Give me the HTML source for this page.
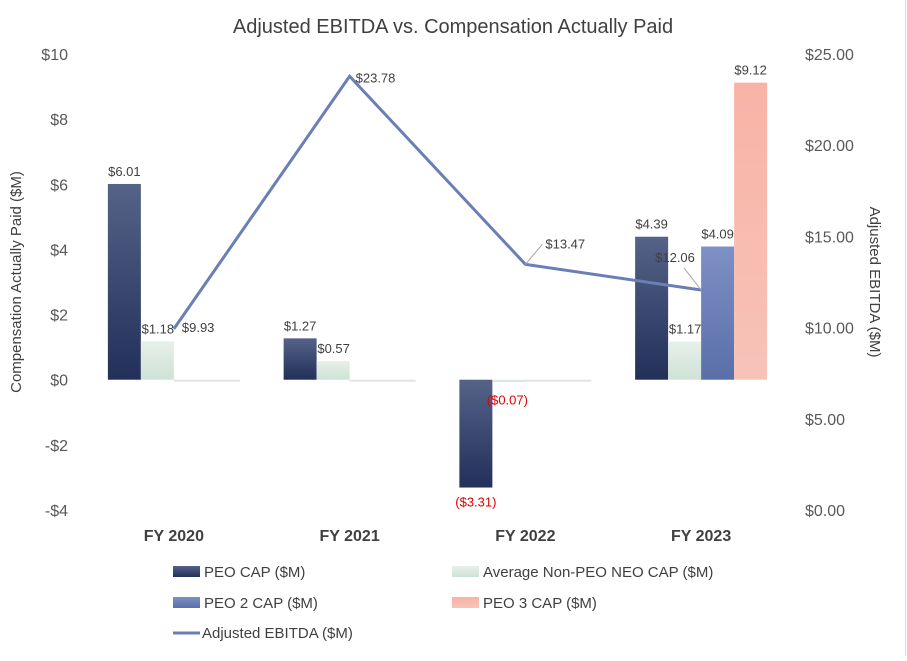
<!DOCTYPE html>
<html><head><meta charset="utf-8"><style>
body{margin:0;background:#fff;font-family:"Liberation Sans",sans-serif}
svg text{font-family:"Liberation Sans",sans-serif}
</style></head><body>
<svg id="c" width="907" height="656">
<defs>
<linearGradient id="g1" x1="0" y1="0" x2="0" y2="1"><stop offset="0" stop-color="#556388"/><stop offset="1" stop-color="#22305a"/></linearGradient>
<linearGradient id="g2" x1="0" y1="0" x2="0" y2="1"><stop offset="0" stop-color="#e6f0ea"/><stop offset="1" stop-color="#cfe2d6"/></linearGradient>
<linearGradient id="g3" x1="0" y1="0" x2="0" y2="1"><stop offset="0" stop-color="#7e90c4"/><stop offset="1" stop-color="#5a6ea8"/></linearGradient>
<linearGradient id="g4" x1="0" y1="0" x2="0" y2="1"><stop offset="0" stop-color="#f8b3a6"/><stop offset="1" stop-color="#f7c3b8"/></linearGradient>
</defs>
<line x1="905.5" y1="0" x2="905.5" y2="656" stroke="#d9d9d9"/>
<text x="453" y="33" text-anchor="middle" font-size="20" fill="#404040">Adjusted EBITDA vs. Compensation Actually Paid</text>
<g id="plot"></g>
<text transform="translate(21,282) rotate(-90)" text-anchor="middle" font-size="15" fill="#404040">Compensation Actually Paid ($M)</text>
<text transform="translate(870,282) rotate(90)" text-anchor="middle" font-size="15" fill="#404040">Adjusted EBITDA ($M)</text>
<g font-size="15" fill="#404040">
<rect x="173" y="566" width="27" height="11" fill="url(#g1)"/>
<text x="204" y="577">PEO CAP ($M)</text>
<rect x="452" y="566" width="27" height="11" fill="url(#g2)"/>
<text x="483" y="577">Average Non-PEO NEO CAP ($M)</text>
<rect x="173" y="597" width="27" height="11" fill="url(#g3)"/>
<text x="204" y="608">PEO 2 CAP ($M)</text>
<rect x="452" y="597" width="27" height="11" fill="url(#g4)"/>
<text x="483" y="608">PEO 3 CAP ($M)</text>
<line x1="173" y1="633" x2="200" y2="633" stroke="#6a7fb5" stroke-width="3"/>
<text x="202" y="638">Adjusted EBITDA ($M)</text>
</g>
</svg>
<script>
const categories=["FY 2020","FY 2021","FY 2022","FY 2023"];
const peo=[6.01,1.27,-3.31,4.39];
const nonPeo=[1.18,0.57,-0.07,1.17];
const peo2=[0,0,0,4.09];
const peo3=[0,0,0,9.12];
const ebitda=[9.93,23.78,13.47,12.06];
const leftTicks=[-4,-2,0,2,4,6,8,10];
const rightTicks=[0,5,10,15,20,25];
const NS="http://www.w3.org/2000/svg";
const g=document.getElementById('plot');
const x0=86,x1=789,bw=(x1-x0)/categories.length;
const yL=v=>510-(v+4)/14*456;
const yR=v=>510-v/25*456;
function el(t,a,txt){const e=document.createElementNS(NS,t);for(const k in a)e.setAttribute(k,a[k]);if(txt!==undefined)e.textContent=txt;g.appendChild(e);return e;}
const fmt=v=>v<0?"($"+Math.abs(v).toFixed(2)+")":"$"+v.toFixed(2);
leftTicks.forEach(v=>{const e=el('text',{x:68,y:yL(v)+6,'text-anchor':'end','font-size':16,fill:'#595959'},(v<0?"-$"+(-v):"$"+v));

});
rightTicks.forEach(v=>{const e=el('text',{x:805,y:yR(v)+6,'font-size':16,fill:'#595959'},"$"+v.toFixed(2));

});
const series=[[peo,'url(#g1)','peo'],[nonPeo,'url(#g2)','nonpeo'],[peo2,'url(#g3)','peo2'],[peo3,'url(#g4)','peo3']];
categories.forEach((c,i)=>{
 const cx=x0+bw*(i+0.5);
 const t=el('text',{x:cx,y:541,'text-anchor':'middle','font-size':16,'font-weight':'bold',fill:'#404040'},c);
 
 
 series.forEach((s,j)=>{
  const v=s[0][i];const bx=cx-66+j*33;
  const top=Math.min(yL(v),yL(0)),h=Math.abs(yL(v)-yL(0));
  if(v===0){const l=el('rect',{x:bx,y:yL(0),width:33,height:2,fill:'#e3e3e3'});
   
   return;}
  const r=el('rect',{x:bx,y:top,width:33,height:Math.max(h,1.5),fill:s[1]});
  
  
  let lx=bx+16.5,ly=v<0?yL(v)+19:yL(v)-8;
  if(s[2]==='nonpeo'){lx=bx+17;ly=yL(v)-20+12;}
  let col=v<0?'#e00000':'#404040';
  if(s[2]==='nonpeo'&&v<0){ly=yL(0)+25;lx=bx+15;}
  const lb=el('text',{x:lx,y:ly,'text-anchor':'middle','font-size':13,fill:col},fmt(v));
  
  
 });
});
const pts=ebitda.map((v,i)=>[x0+bw*(i+0.5),yR(v)]);
const pl=el('polyline',{points:pts.map(p=>p.join(',')).join(' '),fill:'none',stroke:'#6a7fb5','stroke-width':3});


pts.forEach((p,i)=>{
 let lx=p[0]+8,ly=p[1]+4;
 if(i===1){lx=p[0]+6;ly=p[1]+6;}
 if(i===2){lx=p[0]+20;ly=p[1]-16;el('line',{x1:p[0],y1:p[1],x2:p[0]+17,y2:p[1]-20,stroke:'#a6a6a6'});}
 if(i===3){lx=p[0]-46;ly=p[1]-28;el('line',{x1:p[0],y1:p[1],x2:p[0]-17,y2:p[1]-22,stroke:'#a6a6a6'});}
 if(i===0){lx=p[0]+8;ly=p[1]+3;}
 const t=el('text',{x:lx,y:ly,'font-size':13,fill:'#404040'},"$"+ebitda[i].toFixed(2));
 
 
});
</script>
</body></html>
